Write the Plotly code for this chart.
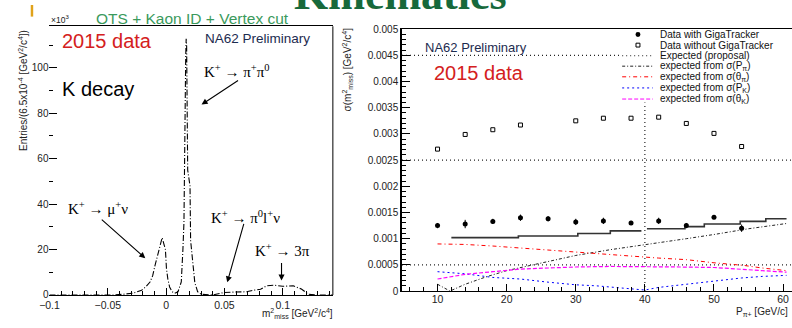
import plotly.graph_objects as go

W, H = 792, 328

# ---------------- data: left panel (missing mass squared) ----------------
m2_miss = [-0.1, -0.045, -0.035, -0.028, -0.021, -0.0175, -0.0138, -0.0115, -0.0096, -0.0075,
           -0.0053, -0.0034, -0.0006, 0.0003, 0.0015, 0.003, 0.005, 0.0074, 0.0102, 0.013,
           0.0144, 0.0153, 0.0168, 0.0172, 0.0176, 0.0185, 0.0205, 0.021, 0.023, 0.0246,
           0.027, 0.03, 0.04, 0.05, 0.06, 0.069, 0.075, 0.081, 0.086, 0.092, 0.1, 0.109,
           0.116, 0.122, 0.128, 0.143]
entries_k = [0, 0, 0.4, 0.8, 2.1, 3.5, 5.7, 8.5, 12.8, 17,
             21.3, 25.2, 20, 11.5, 7, 3.5, 1.5, 0.7, 1.4, 5.7,
             20, 32, 105, 112.8, 110, 55, 48, 24, 14, 5.5,
             1.4, 0.3, 0, 1.1, 1.3, 1.4, 2.1, 2.5, 4, 4.3, 3.8, 4,
             2.6, 0.3, 0, 0]

# ---------------- data: right panel (resolution vs momentum) ----------------
p_gtk = [10, 14, 18, 22, 26, 30, 34, 38, 42, 46, 50, 54]
sigma_gtk = [0.00125, 0.00128, 0.00133, 0.0014, 0.00138, 0.00132, 0.00134, 0.0013,
             0.00134, 0.00125, 0.00141, 0.0012]
sigma_gtk_err = [0.00005, 0.00008, 0.00005, 0.00006, 0.00005, 0.00006, 0.00006, 0.00004,
                 0.00006, 0.00005, 0.00004, 0.00007]

p_nogtk = [10, 14, 18, 22, 30, 34, 38, 42, 46, 50, 54]
sigma_nogtk = [0.00271, 0.00299, 0.00308, 0.00317, 0.00325, 0.0033, 0.0033, 0.00332,
               0.0032, 0.00301, 0.00276]

p_total = [12, 21.7, 30.3, 35, 39.5, None, 40.3, 45.8, 48.6, 53.8, 57.5, 60.5]
sigma_total = [0.00102, 0.00105, 0.0011, 0.00115, 0.00115, None, 0.00119, 0.00123,
               0.00128, 0.00133, 0.00138, 0.00138]

p_ppi = [10, 11.8, 14, 17, 20, 24, 30, 35, 40, 46, 50, 55, 60.5]
sigma_ppi = [0.00013, 0.0, 0.00013, 0.00027, 0.00039, 0.00051, 0.00068, 0.00079, 0.00088,
             0.001, 0.00108, 0.00119, 0.00129]

p_thpi = [10, 14, 18, 22, 26, 30, 35.7, 42, 46, 50, 54.3, 57, 60.5]
sigma_thpi = [0.0009, 0.00089, 0.00086, 0.00082, 0.00078, 0.00074, 0.00068, 0.00063,
              0.0006, 0.00054, 0.00049, 0.00044, 0.00039]

p_pk = [10, 14, 18, 22, 26, 30, 33, 36, 38.5, 40, 42, 46, 50, 54, 57, 60.5]
sigma_pk = [0.00037, 0.00033, 0.00026, 0.00023, 0.00017, 0.00012, 0.0001, 0.00007,
            0.00004, 0.00002, 0.00007, 0.00013, 0.0002, 0.00025, 0.00028, 0.0003]

p_thk = [10, 14, 18, 22, 26, 30, 35, 40, 45, 50, 54, 57, 60.5]
sigma_thk = [0.00023, 0.00032, 0.00037, 0.00042, 0.00044, 0.00046, 0.00047, 0.00047,
             0.00046, 0.00045, 0.00042, 0.00039, 0.00036]

# "Expected (proposal)" reference levels
prop_x = [4.86, 36.5, None, 4.86, 61.3, None, 4.86, 61.3, None, 40, 40]
prop_y = [0.0045, 0.0045, None, 0.0025, 0.0025, None, 0.0005, 0.0005, None, 0.0, 0.0036]

ytick_vals = [0, 0.0005, 0.001, 0.0015, 0.002, 0.0025, 0.003, 0.0035, 0.004, 0.0045, 0.005]
ytick_text = ["0", "0.0005", "0.001", "0.0015", "0.002", "0.0025", "0.003", "0.0035",
              "0.004", "0.0045", "0.005"]

legend_labels = ["Data with GigaTracker", "Data without GigaTracker", "Expected (proposal)",
                 "expected from σ(P<sub>π</sub>)", "expected from σ(θ<sub>π</sub>)",
                 "expected from σ(P<sub>K</sub>)", "expected from σ(θ<sub>K</sub>)"]


def px(x):
    return x / W


def py(y):
    return 1 - y / H


SANS = "Liberation Sans"
SERIF = "Liberation Serif"

fig = go.Figure()

# left histogram
fig.add_trace(go.Scatter(x=m2_miss, y=entries_k, mode="lines", xaxis="x", yaxis="y",
                         line=dict(color="black", width=1.1, dash="6px,2px,1px,2px"),
                         showlegend=False))

# right panel
fig.add_trace(go.Scatter(x=prop_x, y=prop_y, mode="lines", xaxis="x2", yaxis="y2",
                         line=dict(color="#222", width=1.2, dash="1px,3px"),
                         showlegend=False))
fig.add_trace(go.Scatter(x=p_total, y=sigma_total, mode="lines", xaxis="x2", yaxis="y2",
                         line=dict(color="#333", width=1.6, shape="hv"), showlegend=False))
fig.add_trace(go.Scatter(x=p_ppi, y=sigma_ppi, mode="lines", xaxis="x2", yaxis="y2",
                         line=dict(color="#222", width=1, dash="3px,2px,1px,2px"),
                         showlegend=False))
fig.add_trace(go.Scatter(x=p_thpi, y=sigma_thpi, mode="lines", xaxis="x2", yaxis="y2",
                         line=dict(color="#ff0000", width=1, dash="4px,3px,1px,3px"),
                         showlegend=False))
fig.add_trace(go.Scatter(x=p_pk, y=sigma_pk, mode="lines", xaxis="x2", yaxis="y2",
                         line=dict(color="#0000ff", width=1, dash="2px,3px"),
                         showlegend=False))
fig.add_trace(go.Scatter(x=p_thk, y=sigma_thk, mode="lines", xaxis="x2", yaxis="y2",
                         line=dict(color="#ff00ff", width=1.2, dash="4px,2px"),
                         showlegend=False))
fig.add_trace(go.Scatter(x=p_gtk, y=sigma_gtk, mode="markers", xaxis="x2", yaxis="y2",
                         marker=dict(symbol="circle", size=5, color="black"),
                         error_y=dict(type="data", array=sigma_gtk_err, color="black",
                                      thickness=1, width=0),
                         showlegend=False))
fig.add_trace(go.Scatter(x=p_nogtk, y=sigma_nogtk, mode="markers", xaxis="x2", yaxis="y2",
                         marker=dict(symbol="square-open", size=4, color="black",
                                     line=dict(width=1)),
                         showlegend=False))

axis_common = dict(showgrid=False, zeroline=False, ticks="inside", tickcolor="black",
                   linecolor="black")

fig.update_layout(
    width=W, height=H,
    margin=dict(l=0, r=0, t=0, b=0),
    paper_bgcolor="white", plot_bgcolor="white",
    showlegend=False,
    xaxis=dict(domain=[px(40), px(327)], range=[-0.1, 0.143], anchor="y",
               showline=True, linewidth=1, mirror=True, ticklen=7, tick0=0, dtick=0.05,
               minor=dict(dtick=0.01, ticks="inside", ticklen=4, tickcolor="black"),
               tickfont=dict(family=SANS, size=10.5, color="#222"), **axis_common),
    yaxis=dict(domain=[py(300), py(22)], range=[0, 118.3], anchor="x",
               showline=False, ticklen=8, tick0=0, dtick=20,
               minor=dict(dtick=10, ticks="inside", ticklen=4, tickcolor="black"),
               tickfont=dict(family=SANS, size=10, color="#222"), **axis_common),
    xaxis2=dict(domain=[px(397), 1.0], range=[4.857, 61.29], anchor="y2",
                showline=True, linewidth=1, mirror=True, ticklen=7, tick0=0, dtick=10,
                ticklabelstandoff=-2,
                minor=dict(dtick=2, ticks="inside", ticklen=4, tickcolor="black"),
                tickfont=dict(family=SANS, size=10.5, color="#222"), **axis_common),
    yaxis2=dict(domain=[py(296), py(25)], range=[0, 0.005], anchor="x2",
                showline=True, linewidth=1.5, ticklen=8,
                tickvals=ytick_vals, ticktext=ytick_text,
                minor=dict(dtick=0.0001, ticks="inside", ticklen=4, tickcolor="black"),
                tickfont=dict(family=SANS, size=10, color="#222"), **axis_common),
)

shapes = []
# right border of left frame
shapes.append(dict(type="line", xref="paper", yref="paper", x0=px(327), x1=px(327),
                   y0=py(300), y1=py(22), line=dict(color="black", width=1)))
# small golden bar at top-left of slide
shapes.append(dict(type="rect", xref="paper", yref="paper", x0=px(21), x1=px(23.5),
                   y0=py(12), y1=1.0, line=dict(width=0), fillcolor="#e0a21a"))

# manual legend samples
leg_y = [30.5, 41.5, 52.5, 63.3, 74.3, 85.8, 97.3]
leg_styles = [None, None, dict(color="#222", dash="1px,3px"),
              dict(color="#222", dash="3px,2px,1px,2px"),
              dict(color="#ff0000", dash="4px,3px,1px,3px"),
              dict(color="#0000ff", dash="2px,3px"),
              dict(color="#ff00ff", dash="4px,2px")]
for yy, st in zip(leg_y, leg_styles):
    if st is not None:
        shapes.append(dict(type="line", xref="paper", yref="paper", x0=px(620), x1=px(651),
                           y0=py(yy), y1=py(yy), line=dict(width=1, **st)))
# legend marker samples
shapes.append(dict(type="circle", xref="paper", yref="paper", x0=px(633.5), x1=px(638.5),
                   y0=py(33), y1=py(28), fillcolor="black", line=dict(color="black", width=0)))
shapes.append(dict(type="rect", xref="paper", yref="paper", x0=px(634), x1=px(638),
                   y0=py(43.5), y1=py(39.5), line=dict(color="black", width=1)))
fig.update_layout(shapes=shapes)

ann = []


def text(x, y, s, size, color="black", family=SANS, xanchor="left", yanchor="middle",
         angle=0):
    ann.append(dict(x=px(x), y=py(y), xref="paper", yref="paper", text=s, showarrow=False,
                    xanchor=xanchor, yanchor=yanchor, textangle=angle,
                    font=dict(family=family, size=size, color=color)))


def arrow(tx, ty, hx, hy):
    ann.append(dict(x=px(hx), y=py(hy), xref="paper", yref="paper", text="", showarrow=True,
                    ax=tx - hx, ay=ty - hy, axref="pixel", ayref="pixel",
                    arrowhead=2, arrowsize=1.1, arrowwidth=1.1, arrowcolor="black",
                    standoff=0, startstandoff=0))


# slide title (partly cut off at the top)
text(286, 17, "<b>Kinematics</b>", 44, color="#17693b", family=SERIF, yanchor="bottom")
text(85, 14, "OTS + Kaon ID + Vertex cut", 15.5, color="#3a9a5c")

# left panel texts
text(40, 15, "×10<sup>3</sup>", 8.5, color="#222")
text(13, 88, "Entries/(6.5x10<sup>-4</sup> [GeV<sup>2</sup>/c<sup>4</sup>])", 10,
     color="#222", xanchor="center", angle=-90)
text(253, 319, "m<sup>2</sup><sub>miss</sub> [GeV<sup>2</sup>/c<sup>4</sup>]", 10,
     color="#222")
text(51, 37, "2015 data", 20, color="#d42020")
text(51, 87, "K decay", 20)
text(195, 35, "NA62 Preliminary", 13.5, color="#1c2b4f")
text(194, 68, "K<sup>+</sup> → π<sup>+</sup>π<sup>0</sup>", 15, family=SERIF)
text(57, 210, "K<sup>+</sup> → μ<sup>+</sup>ν", 15, family=SERIF)
text(202, 219, "K<sup>+</sup> → π<sup>0</sup>l<sup>+</sup>ν", 15, family=SERIF)
text(246, 254, "K<sup>+</sup> → 3π", 15, family=SERIF)
arrow(232, 78, 194, 103)
arrow(92, 222, 137, 262)
arrow(237, 227, 220, 287)
arrow(275, 266, 275, 285)

# right panel texts
text(342, 67, "σ(m<sup>2</sup><sub>miss</sub>) [GeV<sup>2</sup>/c<sup>4</sup>]", 10,
     color="#222", xanchor="center", angle=-90)
text(733, 318, "P<sub>π+</sub> [GeV/c]", 10, color="#222")
text(418, 44, "NA62 Preliminary", 13, color="#1c2b4f")
text(427, 70, "2015 data", 20, color="#d42020")
for yy, lab in zip(leg_y, legend_labels):
    text(656, yy, lab, 10, color="#111")
fig.update_layout(annotations=ann)

fig.write_html("out.html",
               config={"displayModeBar": False},
               post_script="document.body.style.margin='0px';"
                           "document.body.style.overflow='hidden';")
